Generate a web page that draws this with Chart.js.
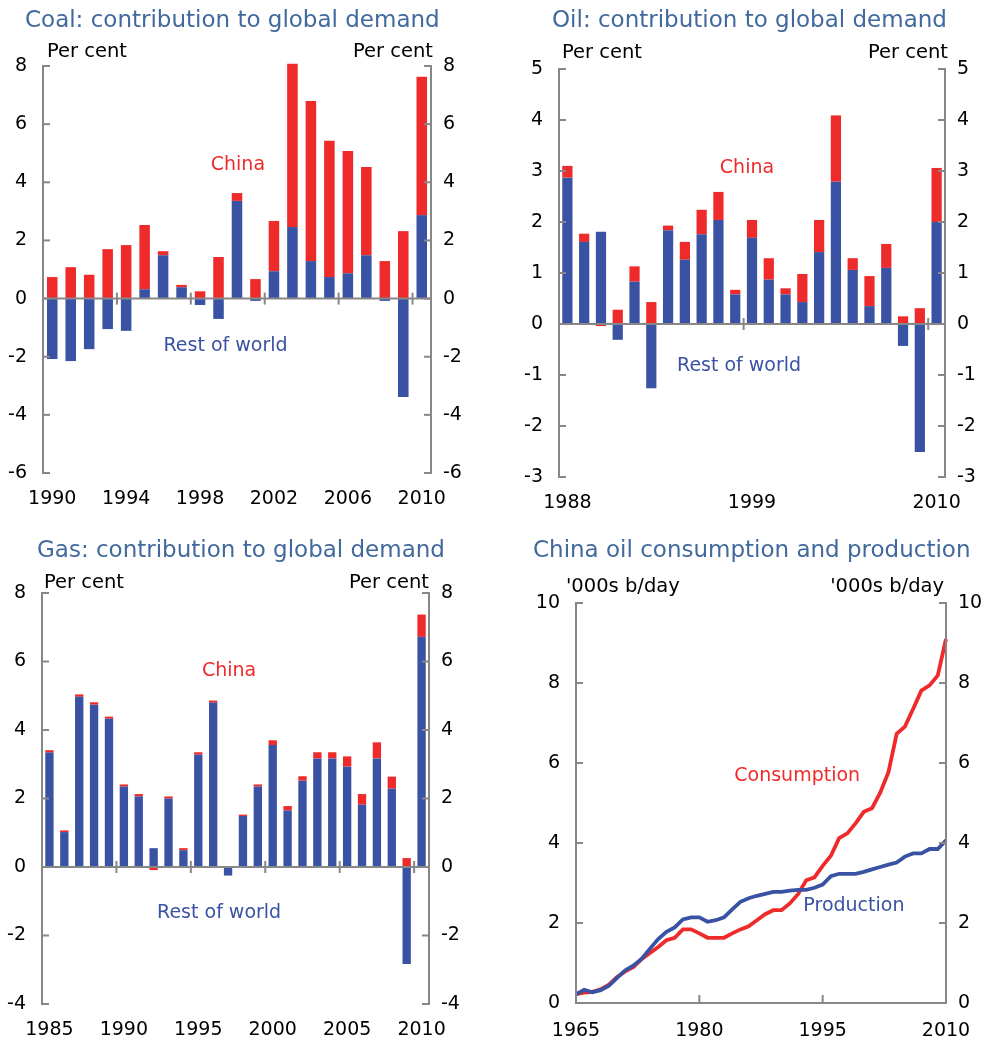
<!DOCTYPE html>
<html><head><meta charset="utf-8">
<script src="https://cdn.jsdelivr.net/npm/chart.js@4.4.1/dist/chart.umd.min.js"></script>
<style>
html,body{margin:0;padding:0;background:#fff;}
#wrap{position:relative;width:993px;height:1041px;overflow:hidden;background:#fff;}
canvas{position:absolute;}
</style></head><body>
<div id="wrap">
<canvas id="coal" width="496" height="520" style="left:0;top:0"></canvas>
<canvas id="oil" width="497" height="520" style="left:496px;top:0"></canvas>
<canvas id="gas" width="496" height="521" style="left:0;top:520px"></canvas>
<canvas id="cons" width="497" height="521" style="left:496px;top:520px"></canvas>
</div>
<script>
// ---------------- DATA ----------------
const coalYears = ['1990','1991','1992','1993','1994','1995','1996','1997','1998','1999','2000','2001','2002','2003','2004','2005','2006','2007','2008','2009','2010'];
const coalRestOfWorld = [-2.08,-2.15,-1.74,-1.05,-1.11,0.32,1.49,0.39,-0.22,-0.70,3.36,-0.08,0.94,2.46,1.29,0.74,0.87,1.49,-0.08,-3.39,2.87];
const coalChina = [0.74,1.08,0.82,1.70,1.84,2.21,0.14,0.08,0.25,1.43,0.27,0.67,1.73,5.62,5.51,4.69,4.21,3.04,1.29,2.32,4.76];

const oilYears = ['1988','1989','1990','1991','1992','1993','1994','1995','1996','1997','1998','1999','2000','2001','2002','2003','2004','2005','2006','2007','2008','2009','2010'];
const oilRestOfWorld = [2.87,1.61,1.81,-0.31,0.83,-1.26,1.84,1.26,1.76,2.04,0.58,1.69,0.87,0.58,0.43,1.41,2.79,1.06,0.35,1.10,-0.43,-2.51,2.00];
const oilChina = [0.23,0.16,-0.04,0.28,0.30,0.43,0.09,0.35,0.48,0.55,0.09,0.35,0.42,0.12,0.55,0.63,1.30,0.23,0.59,0.47,0.15,0.31,1.06];

const gasYears = ['1985','1986','1987','1988','1989','1990','1991','1992','1993','1994','1995','1996','1997','1998','1999','2000','2001','2002','2003','2004','2005','2006','2007','2008','2009','2010'];
const gasRestOfWorld = [3.34,1.02,4.97,4.74,4.33,2.35,2.06,0.55,2.00,0.49,3.28,4.80,-0.25,1.49,2.35,3.56,1.65,2.52,3.17,3.17,2.93,1.82,3.17,2.29,-2.83,6.72];
const gasChina = [0.07,0.05,0.07,0.07,0.06,0.06,0.07,-0.09,0.06,0.06,0.07,0.06,0.00,0.04,0.06,0.14,0.13,0.13,0.18,0.18,0.30,0.31,0.47,0.35,0.26,0.65];

const oilUseYears = [1965,1966,1967,1968,1969,1970,1971,1972,1973,1974,1975,1976,1977,1978,1979,1980,1981,1982,1983,1984,1985,1986,1987,1988,1989,1990,1991,1992,1993,1994,1995,1996,1997,1998,1999,2000,2001,2002,2003,2004,2005,2006,2007,2008,2009,2010];
const consumption = [0.22,0.26,0.28,0.34,0.46,0.65,0.79,0.90,1.10,1.25,1.40,1.57,1.63,1.84,1.84,1.74,1.63,1.63,1.63,1.74,1.84,1.92,2.07,2.22,2.32,2.32,2.49,2.72,3.07,3.14,3.43,3.68,4.12,4.24,4.49,4.78,4.87,5.26,5.77,6.73,6.91,7.35,7.81,7.94,8.19,9.10];
const production = [0.22,0.33,0.27,0.32,0.43,0.63,0.82,0.94,1.11,1.36,1.60,1.78,1.89,2.09,2.14,2.14,2.03,2.07,2.14,2.34,2.53,2.62,2.68,2.73,2.78,2.78,2.81,2.83,2.83,2.88,2.96,3.17,3.23,3.23,3.23,3.28,3.34,3.40,3.46,3.51,3.66,3.74,3.74,3.85,3.85,4.07];

// ---------------- STYLE ----------------
const RED = '#ee2a2a', BLUE = '#3a52a3', GRAY = '#878787', TITLE = '#41699d';
const FONT = "'DejaVu Sans', 'Liberation Sans', Arial, sans-serif";
const TICK = 19;

const decor = {
  id: 'decor',
  afterDatasetsDraw(chart, args, o) {
    const ctx = chart.ctx, a = chart.chartArea, ys = chart.scales.y, xs = chart.scales.x;
    ctx.save();
    ctx.strokeStyle = GRAY; ctx.lineWidth = 2; ctx.lineCap = 'butt';
    const ln = (x1,y1,x2,y2)=>{ctx.beginPath();ctx.moveTo(x1,y1);ctx.lineTo(x2,y2);ctx.stroke();};
    ln(a.left, a.top-1, a.left, a.bottom+1);
    ln(a.right, a.top-1, a.right, a.bottom+1);
    ys.ticks.forEach(t => { const y = ys.getPixelForValue(t.value); ln(a.left, y, a.left+7, y); ln(a.right-7, y, a.right, y); });
    if (o.kind === 'bar') {
      const y0 = ys.getPixelForValue(0);
      ln(a.left, y0, a.right, y0);
      const n = xs.getLabels().length;
      for (let i = 1; i < n; i++) {
        if (i % o.every === 0) {
          const x = (xs.getPixelForValue(i-1) + xs.getPixelForValue(i)) / 2;
          ln(x, y0-6, x, y0+6);
        }
      }
    } else {
      ln(a.left, a.bottom, a.right, a.bottom);
      xs.ticks.forEach(t => { const x = xs.getPixelForValue(t.value); ln(x, a.bottom, x, a.bottom-8); });
    }
    ctx.restore();
  },
  afterDraw(chart, args, o) {
    const ctx = chart.ctx, xs = chart.scales.x, ys = chart.scales.y;
    ctx.save();
    ctx.textBaseline = 'alphabetic';
    ctx.font = '23px ' + FONT; ctx.fillStyle = TITLE; ctx.textAlign = 'left';
    ctx.fillText(o.title, o.titleX, o.titleY);
    ctx.font = '19.5px ' + FONT; ctx.fillStyle = '#000';
    ctx.textAlign = 'left'; ctx.fillText(o.unit, o.unitLX, o.unitY);
    ctx.textAlign = 'right'; ctx.fillText(o.unit, o.unitRX, o.unitY);
    ctx.textAlign = 'center'; ctx.textBaseline = 'middle'; ctx.font = '19px ' + FONT;
    o.notes.forEach(n => { ctx.fillStyle = n.color; ctx.fillText(n.text, xs.getPixelForValue(n.x), ys.getPixelForValue(n.y)); });
    ctx.restore();
  }
};

function fixed(box) {
  return {
    y: s => { s.width = box.left; },
    y2: s => { s.width = box.w - box.right; },
    x: s => { s.height = box.h - box.bottom; }
  };
}

function yScales(box, min, max, step) {
  const f = fixed(box);
  const common = {
    min, max,
    grid: { display: false, drawTicks: false },
    border: { display: false },
    ticks: { stepSize: step, color: '#000', font: { family: FONT, size: TICK } }
  };
  return {
    y: Object.assign({}, common, { position: 'left', stacked: true, afterFit: f.y,
         ticks: Object.assign({}, common.ticks, { padding: 16 }) }),
    y2: Object.assign({}, common, { position: 'right', afterFit: f.y2,
         ticks: Object.assign({}, common.ticks, { padding: 12 }) })
  };
}

function barChart(id, box, labels, row, china, min, max, step, every, barPct, plug) {
  const f = fixed(box);
  const scales = yScales(box, min, max, step);
  scales.x = {
    type: 'category', stacked: true, offset: true,
    grid: { display: false, drawTicks: false }, border: { display: false },
    afterFit: f.x,
    ticks: { autoSkip: false, maxRotation: 0, minRotation: 0, padding: 15, color: '#000',
      font: { family: FONT, size: TICK },
      callback: (v, i) => (i % every === 0 ? labels[i] : '') }
  };
  plug.kind = 'bar'; plug.every = every;
  return new Chart(document.getElementById(id), {
    type: 'bar',
    data: { labels, datasets: [
      { label: 'Rest of world', data: row, backgroundColor: BLUE, categoryPercentage: 1, barPercentage: barPct, clip: false },
      { label: 'China', data: china, backgroundColor: RED, categoryPercentage: 1, barPercentage: barPct, clip: false }
    ]},
    options: {
      responsive: false, animation: false, devicePixelRatio: 1,
      layout: { autoPadding: false, padding: { top: box.top, left: 0, right: 0, bottom: 0 } },
      plugins: { legend: { display: false }, tooltip: { enabled: false }, title: { display: false }, decor: plug },
      scales
    },
    plugins: [decor]
  });
}

// Coal
barChart('coal', { w: 496, h: 520, left: 43, right: 431, top: 66, bottom: 473 },
  coalYears, coalRestOfWorld, coalChina, -6, 8, 2, 4, 0.57,
  { title: 'Coal: contribution to global demand', titleX: 25, titleY: 27,
    unit: 'Per cent', unitLX: 47, unitRX: 433, unitY: 57,
    notes: [ { text: 'China', x: 10.05, y: 4.6, color: RED }, { text: 'Rest of world', x: 9.38, y: -1.65, color: BLUE } ] });

// Oil
barChart('oil', { w: 497, h: 520, left: 63, right: 449, top: 69, bottom: 477 },
  oilYears, oilRestOfWorld, oilChina, -3, 5, 1, 11, 0.61,
  { title: 'Oil: contribution to global demand', titleX: 56, titleY: 27,
    unit: 'Per cent', unitLX: 66, unitRX: 452, unitY: 58,
    notes: [ { text: 'China', x: 10.7, y: 3.05, color: RED }, { text: 'Rest of world', x: 10.23, y: -0.83, color: BLUE } ] });

// Gas
barChart('gas', { w: 496, h: 521, left: 42, right: 429, top: 73, bottom: 484 },
  gasYears, gasRestOfWorld, gasChina, -4, 8, 2, 5, 0.56,
  { title: 'Gas: contribution to global demand', titleX: 37, titleY: 37,
    unit: 'Per cent', unitLX: 44, unitRX: 429, unitY: 68,
    notes: [ { text: 'China', x: 12.07, y: 5.72, color: RED }, { text: 'Rest of world', x: 11.4, y: -1.34, color: BLUE } ] });

// China oil consumption and production
(function () {
  const box = { w: 497, h: 521, left: 80, right: 450, top: 83, bottom: 483 };
  const f = fixed(box);
  const scales = yScales(box, 0, 10, 2);
  scales.y.stacked = false;
  scales.x = {
    type: 'linear', min: 1965, max: 2010,
    grid: { display: false, drawTicks: false }, border: { display: false },
    afterFit: f.x,
    ticks: { stepSize: 15, padding: 17, color: '#000', font: { family: FONT, size: TICK }, maxRotation: 0,
      callback: v => String(v) }
  };
  new Chart(document.getElementById('cons'), {
    type: 'line',
    data: { datasets: [
      { label: 'Production', data: oilUseYears.map((yr, i) => ({ x: yr, y: production[i] })),
        borderColor: BLUE, borderWidth: 3.8, pointRadius: 0, tension: 0, clip: false },
      { label: 'Consumption', data: oilUseYears.map((yr, i) => ({ x: yr, y: consumption[i] })),
        borderColor: RED, borderWidth: 3.8, pointRadius: 0, tension: 0, clip: false }
    ]},
    options: {
      responsive: false, animation: false, devicePixelRatio: 1,
      layout: { autoPadding: false, padding: { top: box.top, left: 0, right: 0, bottom: 0 } },
      plugins: { legend: { display: false }, tooltip: { enabled: false }, title: { display: false },
        decor: { kind: 'line', title: 'China oil consumption and production', titleX: 37, titleY: 37,
          unit: "'000s b/day", unitLX: 70, unitRX: 448, unitY: 72,
          notes: [ { text: 'Consumption', x: 1991.9, y: 5.67, color: RED }, { text: 'Production', x: 1998.8, y: 2.43, color: BLUE } ] } },
      scales
    },
    plugins: [decor]
  });
})();
</script>
</body></html>
